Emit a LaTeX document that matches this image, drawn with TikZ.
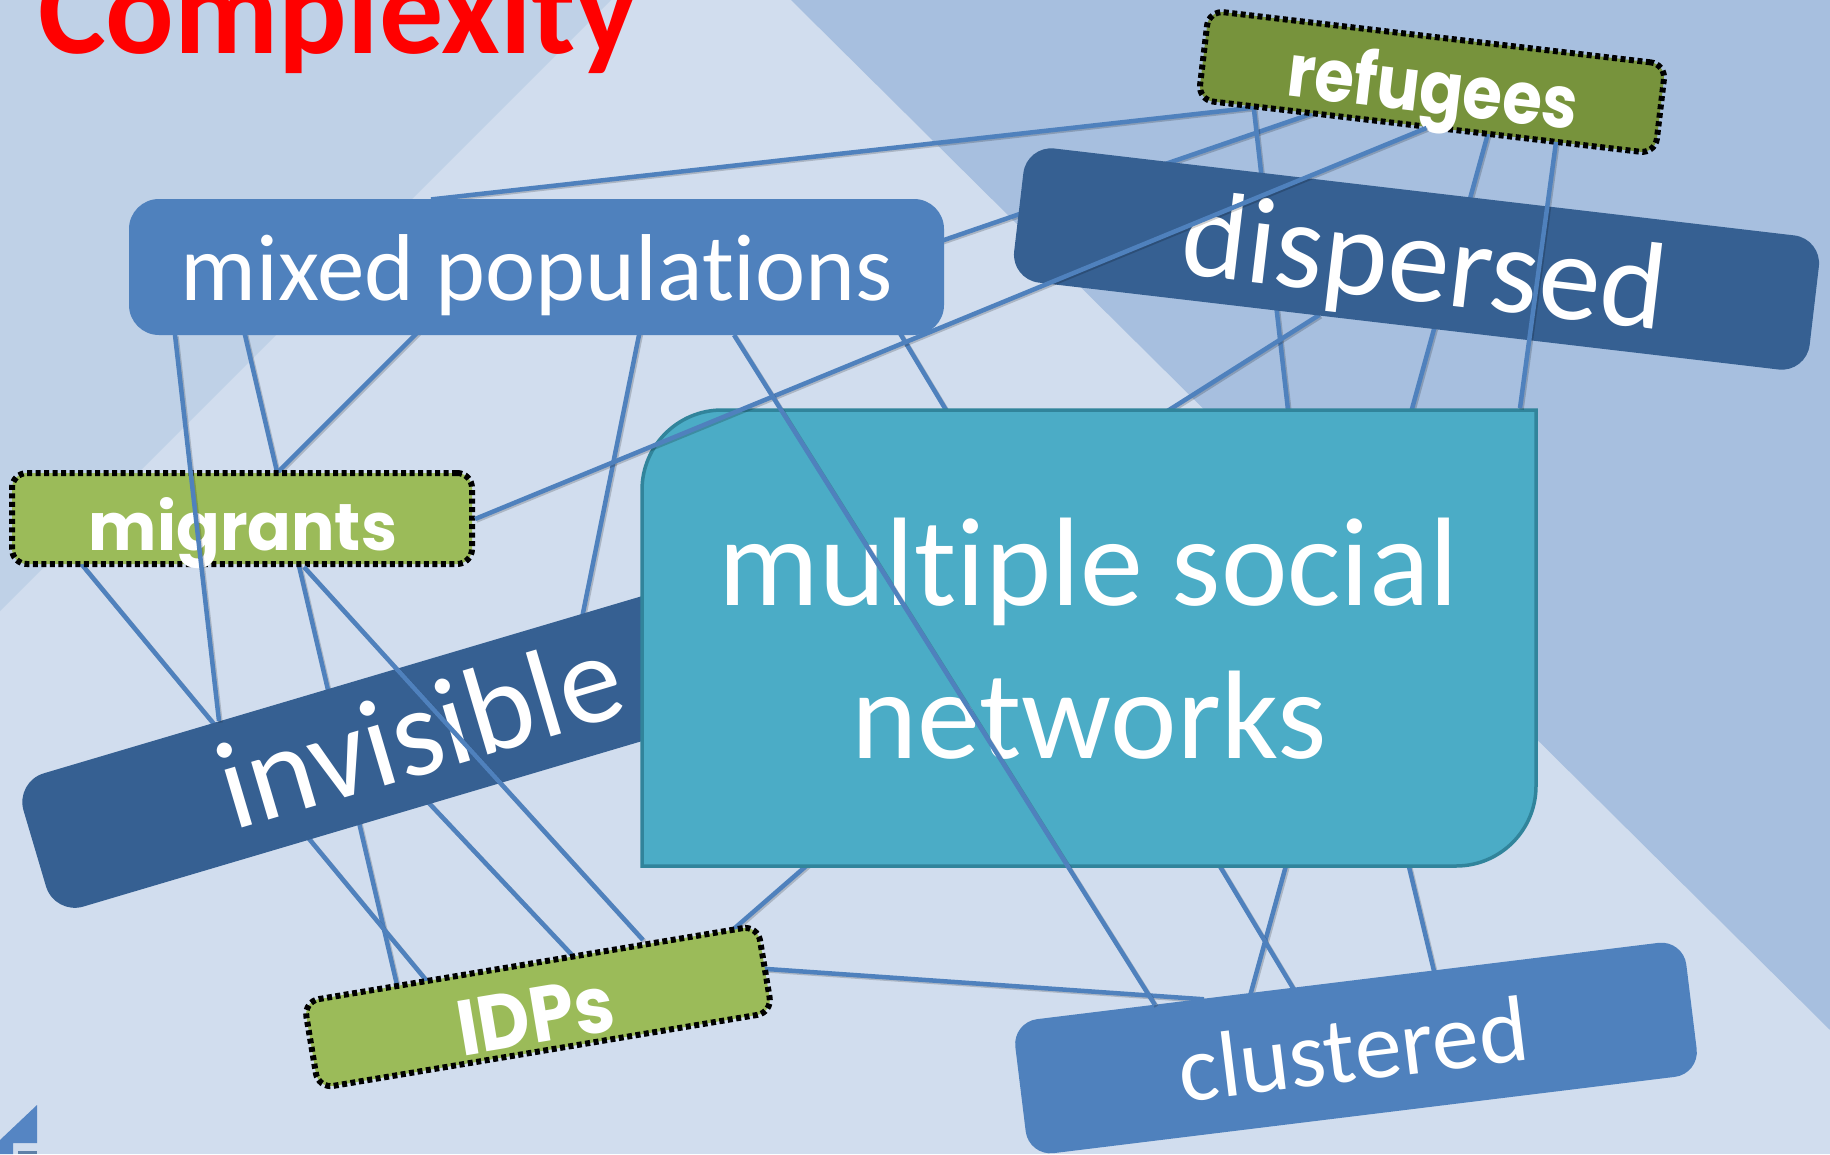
\documentclass[tikz,border=0pt]{standalone}
\usepackage{fontspec}
\setmainfont{Carlito}[Ligatures=NoCommon]
\newfontfamily\gfont{Poppins}
\usepackage{graphicx}
\definecolor{bgmid}{HTML}{D1DDEE}
\definecolor{bgleft}{HTML}{BFD1E7}
\definecolor{bgright}{HTML}{A7BFDF}
\definecolor{linec}{HTML}{4F81BD}
\definecolor{dblue}{HTML}{366092}
\definecolor{mblue}{HTML}{4F81BD}
\definecolor{teal}{HTML}{4BACC6}
\definecolor{tealb}{HTML}{31849B}
\definecolor{lgreen}{HTML}{9BBB59}
\definecolor{olive}{HTML}{77933C}
\definecolor{footc}{HTML}{5585C3}
\tikzset{
  conn/.style={draw=linec, line width=4.5pt,
    preaction={draw=black, draw opacity=0.18, line width=4.5pt,
      transform canvas={shift={(1.5pt,-1.5pt)}}}},
  under/.style={conn, shorten <=-4pt, shorten >=-4pt},
  box/.style={rectangle, inner sep=0pt, outer sep=0pt},
  greenbox/.style={box, draw=black, line width=6pt, dash pattern=on 5pt off 3.5pt,
    rounded corners=15pt, minimum width=460pt, minimum height=90pt},
  lbl/.style={text=white, inner sep=0pt, outer sep=0pt, anchor=base},
}
\begin{document}
\begin{tikzpicture}[x=1pt,y=-1pt]
\useasboundingbox (0,0) rectangle (1830,1154);
\clip (0,0) rectangle (1830,1154);
% background
\fill[bgmid] (0,0) rectangle (1830,1154);
\fill[bgleft] (0,0) -- (611,0) -- (0,611) -- cycle;
\fill[bgright] (791,0) -- (1830,0) -- (1830,1030) -- cycle;
% footer fragment
\fill[footc] (0,1154) -- (0,1140) -- (37,1105) -- (37,1143) -- (13,1143) -- (13,1154) -- cycle;
\fill[dblue!80] (18,1151) rectangle (37,1154);

% connector end points
\coordinate (r1) at (1250,108);
\coordinate (r2) at (1308,115);
\coordinate (r3) at (1254,110);
\coordinate (r4) at (1487,137);
\coordinate (r5) at (1556,142);
\coordinate (r6) at (1426.5,128);
\coordinate (m1) at (435,199);
\coordinate (m2) at (944,240);
\coordinate (m3) at (901,335);
\coordinate (m4) at (734,335);
\coordinate (m5) at (639,335);
\coordinate (m6) at (175,335);
\coordinate (m7) at (245,335);
\coordinate (m8) at (415,335);
\coordinate (d1) at (1316,317);
\coordinate (n1) at (1288,410);
\coordinate (n2) at (1520,408);
\coordinate (n3) at (1169,410);
\coordinate (n4) at (805,867);
\coordinate (n5) at (1345,600);
\coordinate (c1) at (1250,996);
\coordinate (c2) at (1293,988);
\coordinate (c3) at (1155,1005);
\coordinate (c4) at (1200,999);
\coordinate (c5) at (1434,971);
\coordinate (g1) at (475,519);
\coordinate (g2) at (279,471);
\coordinate (g3) at (83,566);
\coordinate (g4) at (304,567);
\coordinate (v1) at (583,613);
\coordinate (v2) at (219,721);
\coordinate (v3) at (379,750);
\coordinate (i1) at (397,985);
\coordinate (i2) at (426,980);
\coordinate (i3) at (643,940);
\coordinate (i4) at (572,955);
\coordinate (i5) at (736,927);
\coordinate (i6) at (767,969);

% connectors passing behind boxes
\draw[under] (r1) -- (m1);
\draw[under] (r2) -- (m2);
\draw[under] (r3) -- (n1);
\draw[under] (r4) -- (c1);
\draw[under] (d1) -- (n3);
\draw[under] (m3) -- (c2);
\draw[under] (m5) -- (v1);
\draw[under] (m7) -- (i1);
\draw[under] (m8) -- (g2);
\draw[under] (g3) -- (i2);
\draw[under] (v3) -- (i4);
\draw[under] (i5) -- (n4);
\draw[under] (i6) -- (c4);
\draw[under] (n5) -- (c5);

% boxes
\node[box, fill=mblue, minimum width=815pt, minimum height=136pt, rounded corners=30pt] (mixed) at (536.5,267) {};
\node[box, fill=dblue, minimum width=801pt, minimum height=135pt, rounded corners=28pt, rotate=-6.7] (dispersed) at (1416.5,259) {};
\node[greenbox, fill=olive, rotate=-6.7] (refugees) at (1432,82) {};
\node[greenbox, fill=lgreen, minimum height=91pt] (migrants) at (242,518.5) {};
\node[box, fill=dblue, minimum width=780pt, minimum height=139pt, rounded corners=30pt, rotate=16.5] (invisible) at (408.7,737.7) {};
\path[fill=teal, draw=tealb, line width=3.5pt] (642,866) -- (642,490) .. controls (642,445.8) and (677.8,410) .. (722,410) -- (1536,410) -- (1536,786) .. controls (1536,830.2) and (1500.2,866) .. (1456,866) -- cycle;
\node[greenbox, fill=lgreen, minimum height=88pt, rotate=9.5] (idps) at (538,1007) {};
\node[box, fill=mblue, minimum width=676pt, minimum height=135pt, rounded corners=25pt, rotate=7] (clustered) at (1356,1048) {};

% texts
\node[anchor=base west, inner sep=0pt, text=red, font=\fontsize{128pt}{128pt}\selectfont\bfseries] (title) at (38,53) {Complexity};
\node[lbl, font=\fontsize{95pt}{95pt}\selectfont] (mixedT) at (537,300) {mixed populations};
\node[lbl, rotate=-6.7, font=\fontsize{124pt}{124pt}\selectfont] (dispersedT) at (1420,302) {dispersed};
\node[lbl, rotate=-6.7] (refugeesT) at (1430,113) {\resizebox{292pt}{57pt}{\gfont\bfseries refugees}};
\node[lbl] (migrantsT) at (243,550) {\resizebox{308pt}{53pt}{\gfont\bfseries migrants}};
\node[lbl, rotate=16.5, font=\fontsize{126pt}{126pt}\selectfont] (invisibleT) at (432,772) {invisible};
\node[lbl, font=\fontsize{126pt}{126pt}\selectfont] (multiA) at (1089,605) {multiple social};
\node[lbl, font=\fontsize{126pt}{126pt}\selectfont] (multiB) at (1089,758) {networks};
\node[lbl, rotate=9.5] (idpsT) at (540,1043) {\resizebox{158pt}{55pt}{\gfont\bfseries IDPs}};
\node[lbl, rotate=7, font=\fontsize{94pt}{94pt}\selectfont] (clusteredT) at (1357,1081) {clustered};

% connectors drawn over boxes
\draw[conn] (r6) -- (g1);
\draw[conn] (r5) -- (n2);
\draw[conn] (m4) -- (c3);
\draw[conn] (g4) -- (i3);
\draw[conn] (m6) -- (v2);
\end{tikzpicture}
\end{document}
